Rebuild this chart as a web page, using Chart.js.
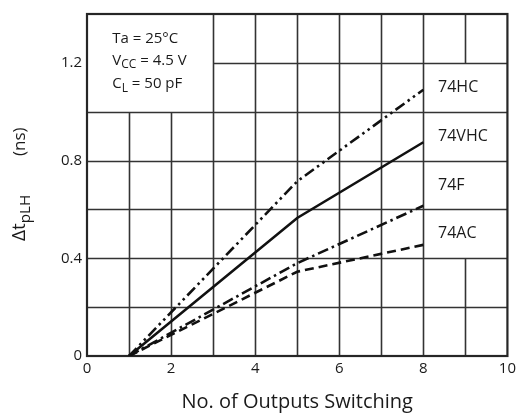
<!DOCTYPE html>
<html>
<head>
<meta charset="utf-8">
<script src="https://cdn.jsdelivr.net/npm/chart.js@4/dist/chart.umd.min.js"></script>
<style>
  html, body { margin: 0; padding: 0; background: #fff; }
  canvas { display: block; }
</style>
</head>
<body>
<canvas id="skewChart" width="520" height="418"></canvas>
<script>
// number of outputs switching at each measured point
const outputs = [1, 5, 8];
// extra propagation delay (ns) per logic family
const hcDelay = [0, 0.715, 1.09];
const vhcDelay = [0, 0.565, 0.875];
const fDelay = [0, 0.38, 0.615];
const acDelay = [0, 0.345, 0.455];

const xTicks = [0, 2, 4, 6, 8, 10];
const yTicks = [0, 0.4, 0.8, 1.2];

const seriesNames = ['74HC', '74VHC', '74F', '74AC'];
// where each family name sits inside the right-hand cells
const nameX = 8.35;
const nameY = [1.1, 0.9, 0.7, 0.5];

const FONT = '"Open Sans", "Noto Sans", sans-serif';
const INK = '#1a1a1a';

const toPoints = ys => outputs.map((x, i) => ({ x: x, y: ys[i] }));

// grid segments: [x-or-y value, from, to]; gaps leave room for the notes
const vLines = [
  [1, 0, 1.0], [2, 0, 1.0], [3, 0, 1.4], [4, 0, 1.4], [5, 0, 1.4],
  [6, 0, 1.4], [7, 0, 1.4], [8, 0, 1.4], [9, 0, 0.4], [9, 1.2, 1.4]
];
const hLines = [
  [0.2, 0, 10], [0.4, 0, 10], [0.6, 0, 10], [0.8, 0, 10], [1.0, 0, 10], [1.2, 3, 10]
];

function drawRich(ctx, x, y, parts, size) {
  let cx = x;
  parts.forEach(p => {
    const s = p.sub ? size * 0.8 : size;
    ctx.font = s + 'px ' + FONT;
    ctx.fillText(p.t, cx, p.sub ? y + size * 0.28 : y);
    cx += ctx.measureText(p.t).width;
  });
  return cx;
}

const gridPlugin = {
  id: 'gridPlugin',
  beforeDatasetsDraw(chart) {
    const { ctx, chartArea: a, scales: { x, y } } = chart;
    ctx.save();
    ctx.strokeStyle = '#333';
    ctx.lineWidth = 1.6;
    ctx.beginPath();
    vLines.forEach(([v, y0, y1]) => {
      const px = Math.round(x.getPixelForValue(v)) + 0.5;
      ctx.moveTo(px, y.getPixelForValue(y0));
      ctx.lineTo(px, y.getPixelForValue(y1));
    });
    hLines.forEach(([v, x0, x1]) => {
      const py = Math.round(y.getPixelForValue(v)) + 0.5;
      ctx.moveTo(x.getPixelForValue(x0), py);
      ctx.lineTo(x.getPixelForValue(x1), py);
    });
    ctx.stroke();
    ctx.lineWidth = 2.2;
    ctx.strokeStyle = '#262626';
    ctx.strokeRect(a.left, a.top, a.right - a.left, a.bottom - a.top);
    ctx.restore();
  },
  afterDatasetsDraw(chart) {
    const { ctx, scales: { x, y } } = chart;
    ctx.save();
    ctx.fillStyle = INK;
    ctx.textBaseline = 'middle';
    ctx.textAlign = 'left';

    // test conditions
    const bx = x.getPixelForValue(0.6);
    drawRich(ctx, bx, y.getPixelForValue(1.3), [{ t: 'Ta = 25°C' }], 15);
    drawRich(ctx, bx, y.getPixelForValue(1.2) - 2, [{ t: 'V' }, { t: 'CC', sub: true }, { t: ' = 4.5 V' }], 15);
    drawRich(ctx, bx, y.getPixelForValue(1.105) - 2, [{ t: 'C' }, { t: 'L', sub: true }, { t: ' = 50 pF' }], 15);

    // family names
    ctx.font = '16px ' + FONT;
    seriesNames.forEach((n, i) => {
      ctx.fillText(n, x.getPixelForValue(nameX), y.getPixelForValue(nameY[i]));
    });

    // y axis title with subscript
    ctx.translate(20, 241);
    ctx.rotate(-Math.PI / 2);
    ctx.textBaseline = 'middle';
    drawRich(ctx, 0, 0, [{ t: 'Δt' }, { t: 'pLH', sub: true }], 19);
    ctx.font = '17px ' + FONT;
    ctx.fillText('(ns)', 85, 0);
    ctx.restore();
  }
};

const lineStyle = (label, data, dash) => ({
  label: label,
  data: toPoints(data),
  borderColor: '#111',
  borderWidth: 2.6,
  borderDash: dash,
  pointRadius: 0,
  fill: false,
  tension: 0
});

const ctx = document.getElementById('skewChart').getContext('2d');
const skewChart = new Chart(ctx, {
  type: 'line',
  data: {
    datasets: [
      lineStyle('74HC', hcDelay, [11, 4, 2.5, 4, 2.5, 4]),
      lineStyle('74VHC', vhcDelay, []),
      lineStyle('74F', fDelay, [11, 4, 2.5, 4]),
      lineStyle('74AC', acDelay, [9, 5])
    ]
  },
  options: {
    responsive: false,
    animation: false,
    layout: { padding: { top: 7, right: 8, left: 0, bottom: 0 } },
    plugins: {
      legend: { display: false },
      tooltip: { enabled: false }
    },
    scales: {
      x: {
        type: 'linear',
        min: 0,
        max: 10,
        grid: { display: false, drawTicks: false },
        border: { display: false },
        afterBuildTicks: axis => { axis.ticks = xTicks.map(v => ({ value: v })); },
        afterFit: axis => { axis.height = 62; },
        ticks: {
          color: INK,
          padding: 4,
          maxRotation: 0,
          font: { family: FONT, size: 15 },
          callback: v => String(v)
        },
        title: {
          display: true,
          text: 'No. of Outputs Switching',
          color: INK,
          font: { family: FONT, size: 20 },
          padding: { top: 0, bottom: 4 }
        }
      },
      y: {
        min: 0,
        max: 1.4,
        grid: { display: false, drawTicks: false },
        border: { display: false },
        afterBuildTicks: axis => { axis.ticks = yTicks.map(v => ({ value: v })); },
        afterFit: axis => { axis.width = 87; },
        ticks: {
          color: INK,
          padding: 5,
          font: { family: FONT, size: 15 },
          callback: v => String(v)
        }
      }
    }
  },
  plugins: [gridPlugin]
});
</script>
</body>
</html>
